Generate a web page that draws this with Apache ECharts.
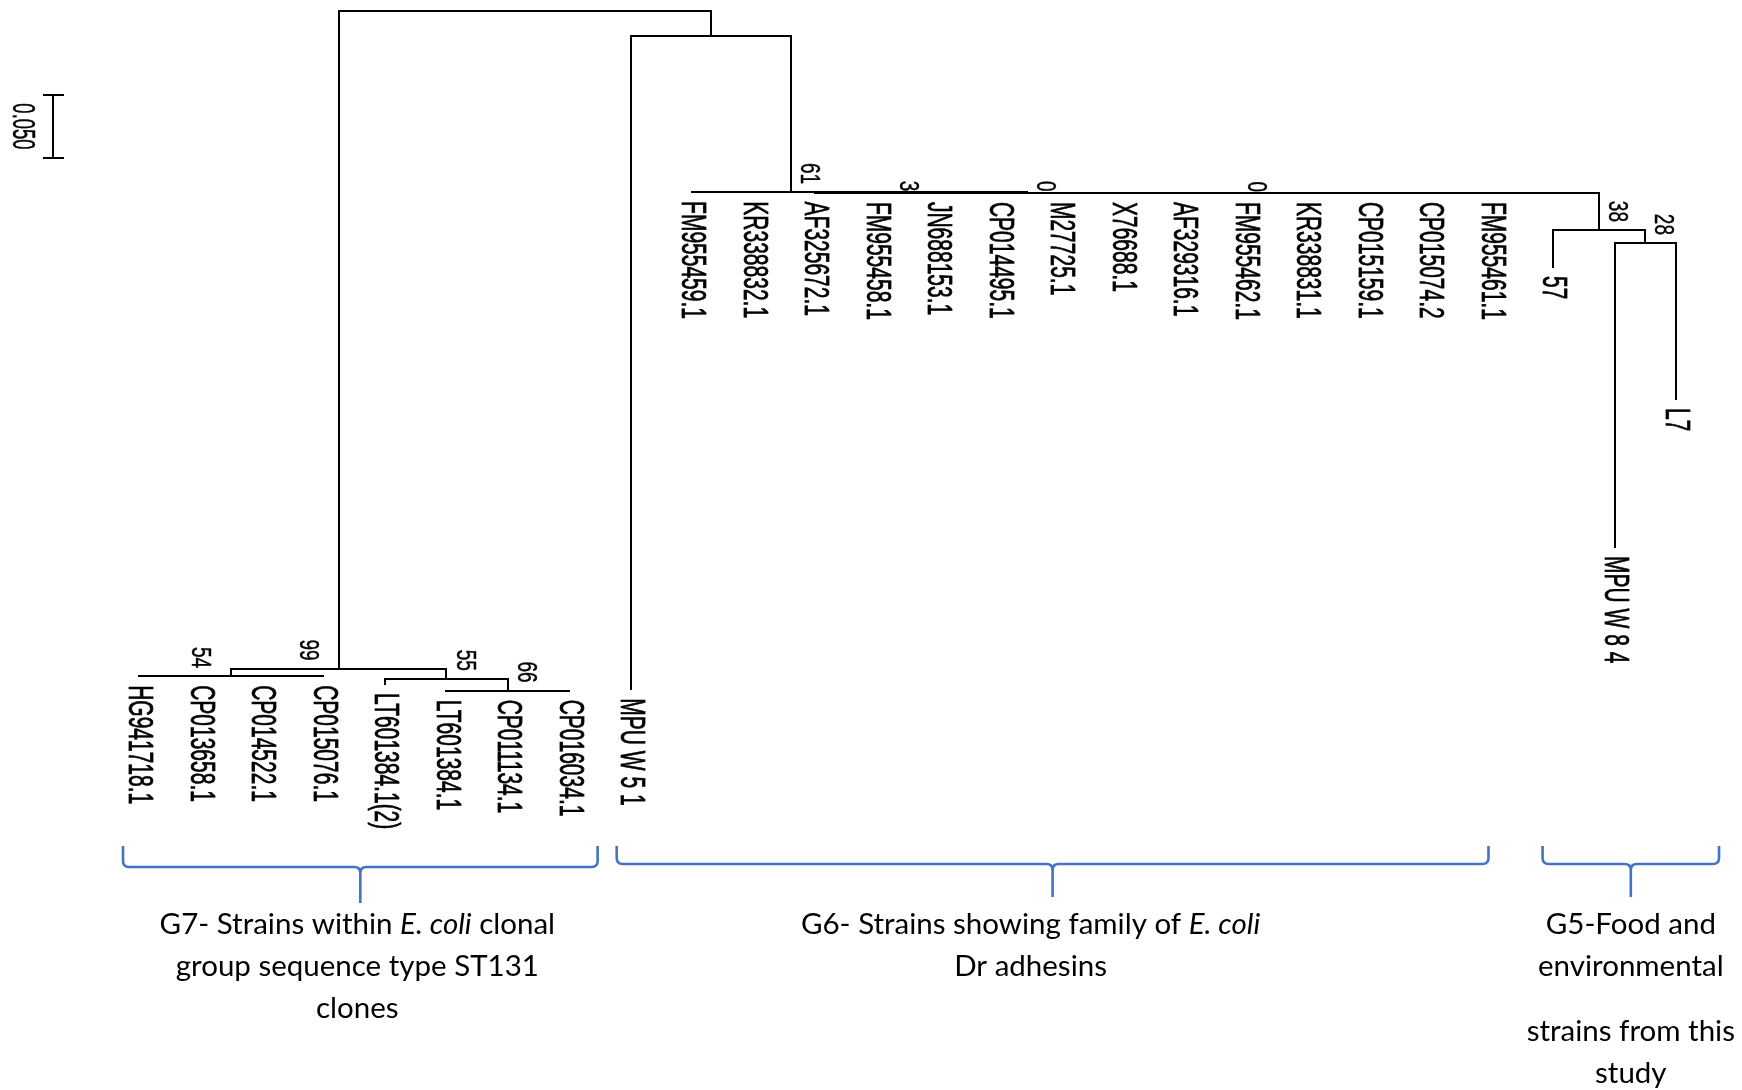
<!DOCTYPE html>
<html><head><meta charset="utf-8">
<script src="https://cdn.jsdelivr.net/npm/echarts@6/dist/echarts.min.js"></script>
<style>html,body{margin:0;padding:0;background:#fff}#c{width:1742px;height:1090px}</style>
</head><body><div id="c"></div>
<script>
// ---------- DATA ----------
const leafNames = ['HG941718.1','CP013658.1','CP014522.1','CP015076.1','LT601384.1(2)','LT601384.1','CP011134.1','CP016034.1','MPU W 5 1',
  'FM955459.1','KR338832.1','AF325672.1','FM955458.1','JN688153.1','CP014495.1','M27725.1','X76688.1','AF329316.1','FM955462.1',
  'KR338831.1','CP015159.1','CP015074.2','FM955461.1','57','MPU W 8 4','L7'];
// distance from root (substitutions/site)
const leafDepths = [0.5279,0.5279,0.5279,0.5279,0.5342,0.5394,0.5394,0.5394,0.5383,
  0.1437,0.1439,0.1441,0.1444,0.1444,0.1444,0.1444,0.1444,0.1444,0.1444,
  0.1444,0.1444,0.1444,0.1444,0.2032,0.4254,0.3079];
const nodeIds = ['root','A','G7','G7a','G7b','G7c','D1','D2','D3','D4','G5','G5a'];
const nodeChildren = [['G7','A'],[8,'D1'],['G7a','G7b'],[0,1,2,3],[4,'G7c'],[5,6,7],
  [9,'D2'],[10,'D3'],[11,'D4'],[12,13,14,15,16,17,18,19,20,21,22,'G5'],[23,'G5a'],[24,25]];
const nodeDepths = [0,0.0198,0.5219,0.5279,0.5301,0.5394,0.1437,0.1439,0.1441,0.1444,0.1738,0.1841];
const nodeSupport = ['','','99','54','55','66','61','3','0','0','38','28'];
const scaleBar = [[-1.4, 0.0667, 0.05]]; // [x slot, start depth, length]
const groupRanges = [[-0.26, 7.46], [7.77, 21.95], [22.83, 25.7]];
const groupParagraphs = [
  [['G7- Strains within {i|E. coli} clonal','group sequence type ST131','clones']],
  [['G6- Strains showing family of {i|E. coli}','Dr adhesins']],
  [['G5-Food and','environmental'],['strains from this','study']]
];

// ---------- TREE GEOMETRY ----------
const idx = {}; nodeIds.forEach((id,i)=>idx[id]=i);
const nodeX = [];
function xOf(c){ return typeof c === 'number' ? c : nx(idx[c]); }
function dOf(c){ return typeof c === 'number' ? leafDepths[c] : nodeDepths[idx[c]]; }
function nx(i){ if(nodeX[i]!=null) return nodeX[i]; const ch=nodeChildren[i]; nodeX[i]=(xOf(ch[0])+xOf(ch[ch.length-1]))/2; return nodeX[i]; }
nodeIds.forEach((_,i)=>nx(i));
const parentDepth = {};
const segs = [];
nodeIds.forEach((id,i)=>{
  const ch = nodeChildren[i], d = nodeDepths[i];
  segs.push([xOf(ch[0]), d, xOf(ch[ch.length-1]), d]);
  ch.forEach(c=>{
    const dc = dOf(c);
    if (typeof c !== 'number') parentDepth[c] = d;
    if (dc > d) segs.push([xOf(c), d, xOf(c), dc]);
  });
});
const supportData = [];
nodeIds.forEach((id,i)=>{ if(nodeSupport[i]!=='') supportData.push([nodeX[i], nodeDepths[i], i]); });
const leafData = leafNames.map((n,i)=>[i, leafDepths[i], i]);
const braceData = groupRanges.map((r,g)=>[r[0], r[1], g]);

const TREE_FONT = '"Liberation Sans", Arial, sans-serif';
const NOTE_FONT = 'Lato, "Open Sans", sans-serif';
const leftSupport = {G7:1, G7a:1};
const groupTextShift = [-3, -22, 0];
const R = v => Math.round(v);

const chart = echarts.init(document.getElementById('c'));
chart.setOption({
  animation: false,
  grid: {left: 139, top: 11, width: 1537, height: 1008},
  xAxis: {type: 'value', min: 0, max: 25, show: false},
  yAxis: {type: 'value', min: 0, max: 0.8, inverse: true, show: false},
  series: [
    { type: 'custom', name: 'branches', data: segs, dimensions: ['x1','y1','x2','y2'], encode: {x:[0,2], y:[1,3]},
      renderItem: (p, api) => {
        const a = api.coord([api.value(0), api.value(1)]);
        const b = api.coord([api.value(2), api.value(3)]);
        return {type:'line', shape:{x1:R(a[0]), y1:R(a[1]), x2:R(b[0]), y2:R(b[1])},
          style:{stroke:'#000', lineWidth:2, lineCap:'square'}};
      }
    },
    { type: 'custom', name: 'leaves', data: leafData, encode: {x:0, y:1},
      renderItem: (p, api) => {
        const i = api.value(2);
        const a = api.coord([api.value(0), api.value(1)]);
        return {type:'text', x:a[0], y:a[1]+9, rotation:-Math.PI/2, scaleY:1.7,
          style:{text: leafNames[i], fill:'#000', stroke:'#000', lineWidth:0.45, fontSize:21, fontFamily:TREE_FONT,
            textAlign:'left', textVerticalAlign:'middle'}};
      }
    },
    { type: 'custom', name: 'support', data: supportData, encode: {x:0, y:1},
      renderItem: (p, api) => {
        const i = api.value(2), id = nodeIds[i];
        const a = api.coord([api.value(0), api.value(1)]);
        const br = nodeDepths[i] - (parentDepth[id] ?? 0);
        const gap = br < 0.001 ? 1 : 8;
        return {type:'text', x:a[0] + (leftSupport[id] ? -31 : 18), y:a[1]-gap, rotation:-Math.PI/2, scaleY:1.5,
          style:{text: nodeSupport[i], fill:'#000', stroke:'#000', lineWidth:0.3, fontSize:19, fontFamily:TREE_FONT,
            textAlign:'right', textVerticalAlign:'middle'}};
      }
    },
    { type: 'custom', name: 'scale', data: scaleBar, encode: {x:0, y:1},
      renderItem: (p, api) => {
        const a = api.coord([api.value(0), api.value(1)]);
        const b = api.coord([api.value(0), api.value(1) + api.value(2)]);
        const x = R(a[0]), y1 = R(a[1]), y2 = R(b[1]);
        return {type:'group', children:[
          {type:'line', shape:{x1:x, y1:y1, x2:x, y2:y2}, style:{stroke:'#000', lineWidth:2}},
          {type:'line', shape:{x1:x-10, y1:y1, x2:x+11, y2:y1}, style:{stroke:'#000', lineWidth:2}},
          {type:'line', shape:{x1:x-10, y1:y2, x2:x+11, y2:y2}, style:{stroke:'#000', lineWidth:2}},
          {type:'text', x:x-31, y:(y1+y2)/2, rotation:-Math.PI/2, scaleY:1.7,
            style:{text: api.value(2).toFixed(3), fill:'#000', stroke:'#000', lineWidth:0.3, fontSize:18.5, fontFamily:TREE_FONT,
              textAlign:'center', textVerticalAlign:'middle'}}
        ]};
      }
    },
    { type: 'custom', name: 'groups', data: braceData, encode: {x:[0,1]},
      renderItem: (p, api) => {
        const g = api.value(2);
        const x0 = api.coord([api.value(0), 0])[0];
        const x1 = api.coord([api.value(1), 0])[0];
        const cx = (x0 + x1) / 2;
        const top = 846, h = g === 0 ? 867 : 864, tip = g === 0 ? 903 : 897, r = 6;
        const d = `M${x0},${top} L${x0},${h-r} Q${x0},${h} ${x0+r},${h} L${cx-r},${h} Q${cx},${h} ${cx},${h+r} L${cx},${tip} ` +
                  `M${x1},${top} L${x1},${h-r} Q${x1},${h} ${x1-r},${h} L${cx+r},${h} Q${cx},${h} ${cx},${h+r}`;
        const children = [{type:'path', shape:{pathData:d}, style:{stroke:'#4472C4', fill:'none', lineWidth:2.6}}];
        let y = 924;
        groupParagraphs[g].forEach((para, k) => {
          if (k > 0) y += 23;
          para.forEach(line => {
            children.push({type:'text', x: cx + groupTextShift[g], y: y,
              style:{text: line, fill:'#000', fontSize:29.5, fontFamily:NOTE_FONT, textAlign:'center', textVerticalAlign:'middle',
                rich:{i:{fontStyle:'italic', fontSize:29.5, fontFamily:NOTE_FONT}}}});
            y += 42;
          });
        });
        return {type:'group', children};
      }
    }
  ]
});
</script>
</body></html>
